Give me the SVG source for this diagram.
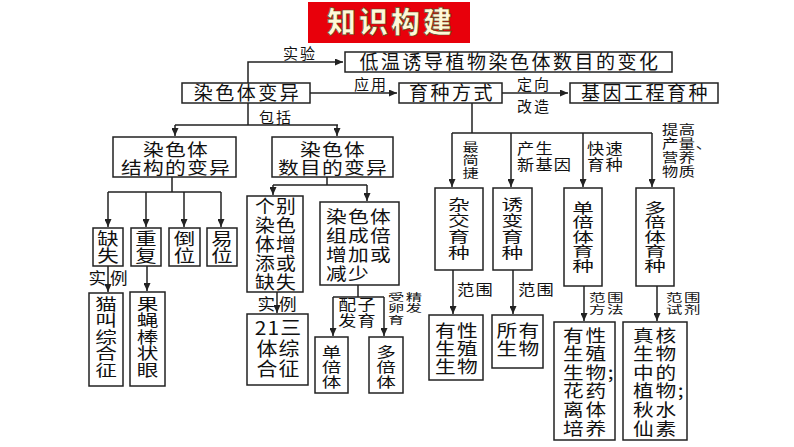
<svg xmlns="http://www.w3.org/2000/svg" width="794" height="447" viewBox="0 0 794 447">
<style>
text{font-family:"Noto Sans CJK SC","Noto Sans",sans-serif;fill:#111}
.b{fill:#fff;stroke:#222;stroke-width:1.5}
.t19{font-size:19px;letter-spacing:2.5px}
.m{text-anchor:middle}
.lb{font-size:15px;letter-spacing:2px}
.c{fill:none;stroke:#222;stroke-width:1.5}
.a{marker-end:url(#ah)}
</style>
<defs>
<marker id="ah" markerUnits="userSpaceOnUse" markerWidth="8" markerHeight="7" refX="8" refY="3.5" orient="auto"><path d="M0,0 L8,3.5 L0,7 z" fill="#222"/></marker>
</defs>
<rect width="794" height="447" fill="#fff"/>

<g id="title">
<rect x="308" y="2" width="162" height="41" fill="#e8000b"/>
<text x="391" y="33" class="m" style="font-size:29px;font-weight:900;letter-spacing:3px;fill:#fff8d8;stroke:#5a4a20;stroke-width:0.7">知识构建</text>
</g>

<g id="connectors">
<path class="c a" d="M248,83 V62 H343"/>
<path class="c a" d="M310,93 H397"/>
<path class="c a" d="M502,93 H568"/>
<path class="c" d="M248,103 V125 M175,125 H338"/>
<path class="c a" d="M175,125 V136"/>
<path class="c a" d="M337,125 V136"/>
<path class="c" d="M172,177 V192 M108,192 H221"/>
<path class="c a" d="M108,192 V227"/>
<path class="c a" d="M146,192 V227"/>
<path class="c a" d="M184,192 V227"/>
<path class="c a" d="M221,192 V227"/>
<path class="c a" d="M108,266 V292"/>
<path class="c a" d="M147,266 V291"/>
<path class="c" d="M327,177 V185 M273,185 H367"/>
<path class="c a" d="M273,185 V195"/>
<path class="c a" d="M367,185 V201"/>
<path class="c a" d="M277,292 V313"/>
<path class="c" d="M358,285 V297 M333,297 H384"/>
<path class="c a" d="M333,297 V336"/>
<path class="c a" d="M384,297 V336"/>
<path class="c" d="M472,103 V133 M452,133 H652"/>
<path class="c a" d="M452,133 V187"/>
<path class="c a" d="M511,133 V187"/>
<path class="c a" d="M583,133 V187"/>
<path class="c a" d="M652,133 V187"/>
<path class="c a" d="M453,270 V314"/>
<path class="c a" d="M513,270 V314"/>
<path class="c a" d="M584,286 V321"/>
<path class="c a" d="M657,286 V321"/>
<text x="300" y="58.7" class="lb m">实验</text>
<text x="371" y="89.7" class="lb m">应用</text>
<text x="534" y="89.7" class="lb m">定向</text>
<text x="534" y="111.7" class="lb m">改造</text>
<text x="276" y="123.2" class="lb m">包括</text>
<text x="108" y="284.1" class="m" style="font-size:16px" transform="matrix(1.1 0 0 1 -10.8 0)">实 例</text>
<text x="277" y="310.1" class="m" style="font-size:16px" transform="matrix(1.1 0 0 1 -27.7 0)">实 例</text>
<text class="m" style="font-size:15px;letter-spacing:1px" transform="matrix(1.2 0 0 1 -71.5 0)"><tspan x="357.5" y="309.7">配子</tspan><tspan x="357.5" y="325.7">发育</tspan></text>
<text style="font-size:10.5px;letter-spacing:1px" transform="matrix(1.55 0 0 1 -213.4 0)"><tspan x="388" y="301">受精</tspan><tspan x="388" y="312.5">卵发</tspan><tspan x="388" y="324">育</tspan></text>
<text class="m" style="font-size:12px" transform="matrix(1.35 0 0 1 -164.675 0)"><tspan x="470.5" y="152.06">最</tspan><tspan x="470.5" y="165.06">简</tspan><tspan x="470.5" y="178.06">捷</tspan></text>
<text style="font-size:15px;letter-spacing:1px" transform="matrix(1.15 0 0 1 -77.55 0)"><tspan x="517" y="153.7">产生</tspan><tspan x="517" y="169.7">新基因</tspan></text>
<text style="font-size:15px;letter-spacing:1px" transform="matrix(1.15 0 0 1 -88.05 0)"><tspan x="587" y="153.7">快速</tspan><tspan x="587" y="169.7">育种</tspan></text>
<text style="font-size:13px;letter-spacing:0.5px" transform="matrix(1.25 0 0 1 -165.5 0)"><tspan x="662" y="133.94">提高</tspan><tspan x="662" y="147.94">产量、</tspan><tspan x="662" y="161.94">营养</tspan><tspan x="662" y="175.94">物质</tspan></text>
<text x="475.5" y="294.7" class="m" style="font-size:15px;letter-spacing:1px" transform="matrix(1.15 0 0 1 -71.325 0)">范围</text>
<text x="536.5" y="294.7" class="m" style="font-size:15px;letter-spacing:1px" transform="matrix(1.15 0 0 1 -80.475 0)">范围</text>
<text style="font-size:11px;letter-spacing:1px" transform="matrix(1.5 0 0 1 -294.5 0)"><tspan x="589" y="301.68">范围</tspan><tspan x="589" y="313.68">方法</tspan></text>
<text style="font-size:11px;letter-spacing:1px" transform="matrix(1.5 0 0 1 -333 0)"><tspan x="666" y="301.68">范围</tspan><tspan x="666" y="313.68">试剂</tspan></text>
</g>

<g id="n-experiment">
<rect class="b" x="345" y="52" width="327" height="20"/>
<text x="510" y="69.2" class="t19 m">低温诱导植物染色体数目的变化</text>
</g>
<g id="n-variation">
<rect class="b" x="182" y="83" width="128" height="20"/>
<text x="247.5" y="100.2" class="t19 m">染色体变异</text>
</g>
<g id="n-breeding">
<rect class="b" x="399" y="83" width="103" height="20"/>
<text x="452" y="100.2" class="t19 m">育种方式</text>
</g>
<g id="n-genetic">
<rect class="b" x="570" y="83" width="148" height="20"/>
<text x="645.5" y="100.2" class="t19 m">基因工程育种</text>
</g>
<g id="n-structure">
<rect class="b" x="113" y="137" width="123" height="40"/>
<text class="m" style="font-size:17px;letter-spacing:1px" transform="matrix(1.22 0 0 1 -38.72 0)"><tspan x="176" y="155.96">染色体</tspan><tspan x="176" y="173.96">结构的变异</tspan></text>
</g>
<g id="n-number">
<rect class="b" x="272" y="137" width="121" height="40"/>
<text class="m" style="font-size:17px;letter-spacing:1px" transform="matrix(1.22 0 0 1 -73.26 0)"><tspan x="333" y="155.96">染色体</tspan><tspan x="333" y="173.96">数目的变异</tspan></text>
</g>
<g id="n-deletion">
<rect class="b" x="93" y="228" width="30" height="38"/>
<text class="m" style="font-size:16.5px" transform="matrix(1.3 0 0 1 -32.4 0)"><tspan x="108" y="244.8">缺</tspan><tspan x="108" y="262.3">失</tspan></text>
</g>
<g id="n-duplication">
<rect class="b" x="131" y="228" width="30" height="38"/>
<text class="m" style="font-size:16.5px" transform="matrix(1.3 0 0 1 -43.8 0)"><tspan x="146" y="244.8">重</tspan><tspan x="146" y="262.3">复</tspan></text>
</g>
<g id="n-inversion">
<rect class="b" x="169" y="228" width="31" height="38"/>
<text class="m" style="font-size:16.5px" transform="matrix(1.3 0 0 1 -55.35 0)"><tspan x="184.5" y="244.8">倒</tspan><tspan x="184.5" y="262.3">位</tspan></text>
</g>
<g id="n-translocation">
<rect class="b" x="207" y="228" width="30" height="38"/>
<text class="m" style="font-size:16.5px" transform="matrix(1.3 0 0 1 -66.6 0)"><tspan x="222" y="244.8">易</tspan><tspan x="222" y="262.3">位</tspan></text>
</g>
<g id="n-cry">
<rect class="b" x="89" y="293" width="34" height="93"/>
<text class="m" style="font-size:15.5px" transform="matrix(1.4 0 0 1 -42.4 0)"><tspan x="106" y="309.9">猫</tspan><tspan x="106" y="326.4">叫</tspan><tspan x="106" y="342.9">综</tspan><tspan x="106" y="359.4">合</tspan><tspan x="106" y="375.9">征</tspan></text>
</g>
<g id="n-bar">
<rect class="b" x="130" y="292" width="35" height="94"/>
<text class="m" style="font-size:15.5px" transform="matrix(1.4 0 0 1 -59 0)"><tspan x="147.5" y="309.9">果</tspan><tspan x="147.5" y="326.4">蝇</tspan><tspan x="147.5" y="342.9">棒</tspan><tspan x="147.5" y="359.4">状</tspan><tspan x="147.5" y="375.9">眼</tspan></text>
</g>
<g id="n-individual">
<rect class="b" x="247" y="196" width="56" height="96"/>
<text class="m" style="font-size:18px;letter-spacing:1px" transform="matrix(1.1 0 0 1 -27.6 0)"><tspan x="276" y="212.8">个别</tspan><tspan x="276" y="231.8">染色</tspan><tspan x="276" y="250.8">体增</tspan><tspan x="276" y="269.8">添或</tspan><tspan x="276" y="288.8">缺失</tspan></text>
</g>
<g id="n-set">
<rect class="b" x="320" y="202" width="79" height="83"/>
<text style="font-size:17px;letter-spacing:1px" transform="matrix(1.22 0 0 1 -71.72 0)"><tspan x="326" y="223.5">染色体</tspan><tspan x="326" y="242.2">组成倍</tspan><tspan x="326" y="260.9">增加或</tspan><tspan x="326" y="279.6">减少</tspan></text>
</g>
<g id="n-down">
<rect class="b" x="247" y="314" width="61" height="71"/>
<text class="m" style="font-size:19px;letter-spacing:1px" transform="matrix(1.1 0 0 1 -27.85 0)"><tspan x="278.5" y="335.2">21三</tspan><tspan x="278.5" y="355.7">体综</tspan><tspan x="278.5" y="376.2">合征</tspan></text>
</g>
<g id="n-haploid">
<rect class="b" x="315" y="337" width="33" height="56"/>
<text class="m" style="font-size:14px" transform="matrix(1.4 0 0 1 -132.6 0)"><tspan x="331.5" y="357.3">单</tspan><tspan x="331.5" y="372.3">倍</tspan><tspan x="331.5" y="387.3">体</tspan></text>
</g>
<g id="n-polyploid">
<rect class="b" x="369" y="337" width="34" height="56"/>
<text class="m" style="font-size:14px" transform="matrix(1.4 0 0 1 -154.4 0)"><tspan x="386" y="357.3">多</tspan><tspan x="386" y="372.3">倍</tspan><tspan x="386" y="387.3">体</tspan></text>
</g>
<g id="n-cross">
<rect class="b" x="435" y="188" width="48" height="82"/>
<text class="m" style="font-size:15px" transform="matrix(1.45 0 0 1 -206.55 0)"><tspan x="459" y="209.7">杂</tspan><tspan x="459" y="225.7">交</tspan><tspan x="459" y="241.7">育</tspan><tspan x="459" y="257.7">种</tspan></text>
</g>
<g id="n-mutation">
<rect class="b" x="493" y="188" width="39" height="82"/>
<text class="m" style="font-size:15px" transform="matrix(1.45 0 0 1 -230.625 0)"><tspan x="512.5" y="209.7">诱</tspan><tspan x="512.5" y="225.7">变</tspan><tspan x="512.5" y="241.7">育</tspan><tspan x="512.5" y="257.7">种</tspan></text>
</g>
<g id="n-haploid-breeding">
<rect class="b" x="564" y="188" width="38" height="98"/>
<text class="m" style="font-size:13.5px" transform="matrix(1.6 0 0 1 -349.8 0)"><tspan x="583" y="212.6">单</tspan><tspan x="583" y="227.1">倍</tspan><tspan x="583" y="241.6">体</tspan><tspan x="583" y="256.1">育</tspan><tspan x="583" y="270.6">种</tspan></text>
</g>
<g id="n-polyploid-breeding">
<rect class="b" x="636" y="188" width="38" height="98"/>
<text class="m" style="font-size:13.5px" transform="matrix(1.6 0 0 1 -393 0)"><tspan x="655" y="212.6">多</tspan><tspan x="655" y="227.1">倍</tspan><tspan x="655" y="241.6">体</tspan><tspan x="655" y="256.1">育</tspan><tspan x="655" y="270.6">种</tspan></text>
</g>
<g id="n-sexual">
<rect class="b" x="429" y="315" width="54" height="65"/>
<text class="m" style="font-size:17px;letter-spacing:1px" transform="matrix(1.22 0 0 1 -100.54 0)"><tspan x="457" y="336.96">有性</tspan><tspan x="457" y="354.96">生殖</tspan><tspan x="457" y="372.96">生物</tspan></text>
</g>
<g id="n-all">
<rect class="b" x="492" y="315" width="51" height="53"/>
<text class="m" style="font-size:17px;letter-spacing:1px" transform="matrix(1.22 0 0 1 -114.07 0)"><tspan x="518.5" y="336.96">所有</tspan><tspan x="518.5" y="354.96">生物</tspan></text>
</g>
<g id="n-haploid-method">
<rect class="b" x="554" y="322" width="61" height="118"/>
<text style="font-size:17.5px;letter-spacing:1.5px" transform="matrix(1.18 0 0 1 -101.34 0)"><tspan x="563" y="341.65">有性</tspan><tspan x="563" y="360.25">生殖</tspan><tspan x="563" y="378.85">生物;</tspan><tspan x="563" y="397.45">花药</tspan><tspan x="563" y="416.05">离体</tspan><tspan x="563" y="434.65">培养</tspan></text>
</g>
<g id="n-polyploid-reagent">
<rect class="b" x="623" y="322" width="64" height="118"/>
<text style="font-size:17.5px;letter-spacing:1.5px" transform="matrix(1.18 0 0 1 -113.94 0)"><tspan x="633" y="341.65">真核</tspan><tspan x="633" y="360.25">生物</tspan><tspan x="633" y="378.85">中的</tspan><tspan x="633" y="397.45">植物;</tspan><tspan x="633" y="416.05">秋水</tspan><tspan x="633" y="434.65">仙素</tspan></text>
</g>
</svg>
